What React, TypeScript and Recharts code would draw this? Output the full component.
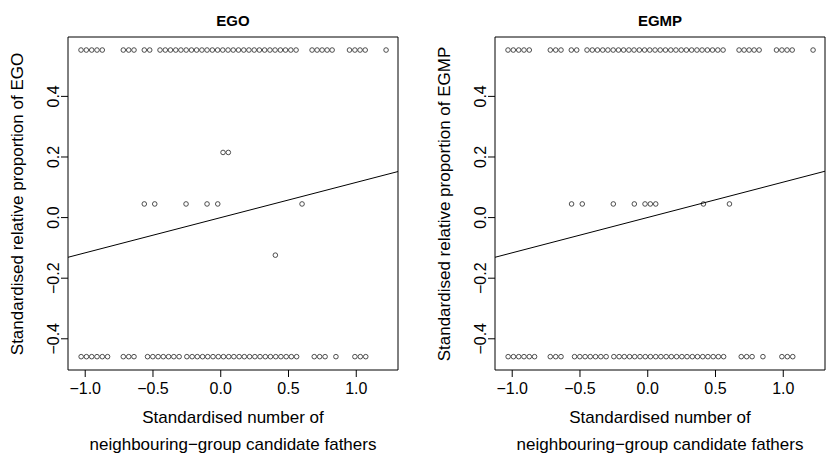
import React from 'react';
import { ScatterChart, Scatter, XAxis, YAxis, ReferenceArea } from 'recharts';

// x values of the points sitting on the top row (same individuals in both panels)
const topRowX = [
  -1.031, -0.992, -0.952, -0.913, -0.874,
  -0.719, -0.679, -0.64,
  -0.564, -0.524,
  -0.448, -0.409, -0.371, -0.332, -0.294, -0.255, -0.216, -0.178, -0.139, -0.101,
  -0.062, -0.023, 0.015, 0.054, 0.092, 0.131, 0.17, 0.208, 0.247, 0.285,
  0.324, 0.363, 0.401, 0.44, 0.478, 0.517, 0.556,
  0.674, 0.711, 0.748, 0.785, 0.822,
  0.95, 0.99, 1.028, 1.066,
  1.22,
];

const bottomRowX = [
  -1.03, -0.991, -0.952, -0.913, -0.874, -0.835,
  -0.719, -0.679, -0.64,
  -0.54, -0.501, -0.462, -0.424, -0.385, -0.346, -0.307,
  -0.25, -0.211, -0.173, -0.134, -0.096, -0.057, -0.018, 0.02, 0.059, 0.097, 0.136,
  0.174, 0.213, 0.252, 0.29, 0.329, 0.367, 0.406, 0.444, 0.483, 0.521, 0.56,
  0.69, 0.73, 0.77,
  0.85,
  0.99, 1.03, 1.07,
];

const topY = 0.553;
const bottomY = -0.459;

// the nine individuals in between
const egoMid = [
  { x: -0.564, y: 0.045 },
  { x: -0.487, y: 0.045 },
  { x: -0.256, y: 0.045 },
  { x: -0.101, y: 0.045 },
  { x: -0.022, y: 0.045 },
  { x: 0.6, y: 0.045 },
  { x: 0.017, y: 0.215 },
  { x: 0.056, y: 0.215 },
  { x: 0.403, y: -0.124 },
];

const egmpMid = [
  { x: -0.562, y: 0.045 },
  { x: -0.483, y: 0.045 },
  { x: -0.254, y: 0.045 },
  { x: -0.099, y: 0.045 },
  { x: -0.02, y: 0.045 },
  { x: 0.019, y: 0.045 },
  { x: 0.059, y: 0.045 },
  { x: 0.411, y: 0.045 },
  { x: 0.603, y: 0.045 },
];

// fitted line, read at the panel edges
const egoFit = [
  { x: -1.127, y: -0.131 },
  { x: 1.308, y: 0.152 },
];
const egmpFit = [
  { x: -1.127, y: -0.131 },
  { x: 1.308, y: 0.153 },
];

const xTicks = [-1, -0.5, 0, 0.5, 1];
const yTicks = [-0.4, -0.2, 0, 0.2, 0.4];
const xDomain = [-1.127, 1.308];
const yDomain = [-0.503, 0.596];

const FONT = '"Liberation Sans", Arial, Helvetica, sans-serif';

const fmt = (v: number) => v.toFixed(1).replace('-', '\u2212');

const Ring = (props: any) => {
  const { cx, cy } = props;
  if (cx == null || cy == null) return <g />;
  return <circle cx={cx} cy={cy} r={2.3} fill="none" stroke="#3a3a3a" strokeWidth={0.9} />;
};

const YTick = (props: any) => {
  const { x, y, payload } = props;
  const bx = x;
  return (
    <text
      x={bx}
      y={y}
      transform={`rotate(-90 ${bx} ${y})`}
      textAnchor="middle"
      fontSize={16}
      fontFamily={FONT}
      fill="#000"
    >
      {fmt(payload.value)}
    </text>
  );
};

type PanelProps = {
  title: string;
  yLabel: string;
  mid: { x: number; y: number }[];
  fit: { x: number; y: number }[];
  left: number;
};

const Panel = ({ title, yLabel, mid, fit, left }: PanelProps) => {
  const top = topRowX.map((x) => ({ x, y: topY }));
  const bottom = bottomRowX.map((x) => ({ x, y: bottomY }));
  return (
    <div style={{ position: 'absolute', left, top: 0, width: 413, height: 457 }}>
      <ScatterChart width={413} height={457} margin={{ top: 37, right: 15, bottom: 57, left: 38 }}>
        <XAxis
          type="number"
          dataKey="x"
          domain={xDomain}
          ticks={xTicks}
          allowDataOverflow
          axisLine={false}
          tickLine={{ stroke: '#000' }}
          tickSize={7}
          tickMargin={6}
          height={30}
          tickFormatter={fmt}
          tick={{ fill: '#000', fontSize: 16, fontFamily: FONT }}
          interval={0}
        />
        <YAxis
          type="number"
          dataKey="y"
          domain={yDomain}
          ticks={yTicks}
          allowDataOverflow
          axisLine={false}
          tickLine={{ stroke: '#000' }}
          tickSize={7}
          width={30}
          tick={<YTick />}
          interval={0}
        />
        <ReferenceArea
          x1={xDomain[0]}
          x2={xDomain[1]}
          y1={yDomain[0]}
          y2={yDomain[1]}
          fill="none"
          stroke="#000"
          strokeWidth={1}
          ifOverflow="visible"
        />
        <Scatter data={top} shape={<Ring />} isAnimationActive={false} />
        <Scatter data={bottom} shape={<Ring />} isAnimationActive={false} />
        <Scatter data={mid} shape={<Ring />} isAnimationActive={false} />
        <Scatter
          data={fit}
          line={{ stroke: '#000', strokeWidth: 1 }}
          shape={() => <g />}
          isAnimationActive={false}
        />
      </ScatterChart>
      <div
        style={{
          position: 'absolute',
          left: 68,
          width: 330,
          top: 12,
          textAlign: 'center',
          fontWeight: 'bold',
          fontSize: 15,
          lineHeight: '18px',
        }}
      >
        {title}
      </div>
      <div
        style={{
          position: 'absolute',
          left: 18 - 200,
          top: 204 - 10,
          width: 400,
          height: 20,
          lineHeight: '20px',
          textAlign: 'center',
          fontSize: 17,
          transform: 'rotate(-90deg)',
          whiteSpace: 'nowrap',
        }}
      >
        {yLabel}
      </div>
      <div
        style={{
          position: 'absolute',
          left: 0,
          width: 466,
          top: 404,
          textAlign: 'center',
          fontSize: 17,
          lineHeight: '27px',
          whiteSpace: 'nowrap',
        }}
      >
        Standardised number of
        <br />
        neighbouring{'\u2212'}group candidate fathers
      </div>
    </div>
  );
};

export default function App() {
  return (
    <div
      style={{
        position: 'absolute',
        left: 0,
        top: 0,
        width: 826,
        height: 457,
        background: '#fff',
        fontFamily: FONT,
        color: '#000',
        overflow: 'hidden',
      }}
    >
      <Panel title="EGO" yLabel="Standardised relative proportion of EGO" mid={egoMid} fit={egoFit} left={0} />
      <Panel title="EGMP" yLabel="Standardised relative proportion of EGMP" mid={egmpMid} fit={egmpFit} left={427} />
    </div>
  );
}
